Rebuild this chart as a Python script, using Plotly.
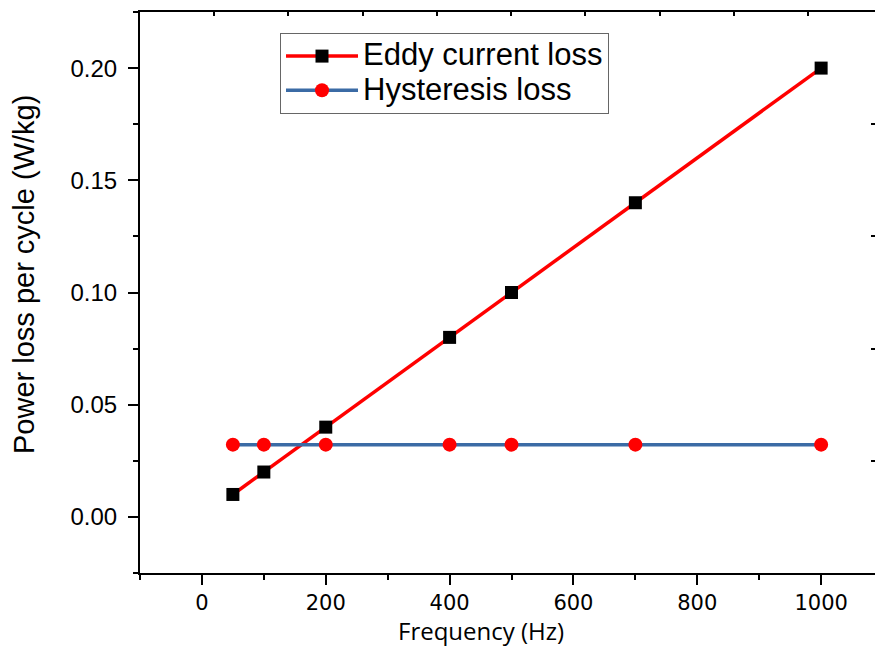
import plotly.graph_objects as go

freq = [50, 100, 200, 400, 500, 700, 1000]
eddy_loss = [0.01, 0.02, 0.04, 0.08, 0.10, 0.14, 0.20]
hyst_loss = [0.0322, 0.0322, 0.0322, 0.0322, 0.0322, 0.0322, 0.0322]
series_names = ["Eddy current loss", "Hysteresis loss"]

x_major_ticks = [0, 200, 400, 600, 800, 1000]
y_major_ticks = [0.00, 0.05, 0.10, 0.15, 0.20]
y_tick_labels = ["0.00", "0.05", "0.10", "0.15", "0.20"]

RED = "#FF0000"
BLUE = "#3B6BA5"


def legend_name(s):
    return '<span style="font-size:31px">' + s + "</span>"


fig = go.Figure()
fig.add_trace(go.Scatter(
    x=freq, y=eddy_loss, mode="lines+markers", name=legend_name(series_names[0]),
    line=dict(color=RED, width=3.5),
    marker=dict(symbol="square", size=13, color="black", line=dict(width=0)),
))
fig.add_trace(go.Scatter(
    x=freq, y=hyst_loss, mode="lines+markers", name=legend_name(series_names[1]),
    line=dict(color=BLUE, width=3.5),
    marker=dict(symbol="circle", size=14, color=RED, line=dict(width=0)),
))
# empty trace to carry the mirrored frame axes
fig.add_trace(go.Scatter(x=[], y=[], xaxis="x2", yaxis="y2", showlegend=False, hoverinfo="skip"))

fig.update_layout(
    width=875, height=648,
    margin=dict(l=140, r=0, t=12, b=75),
    paper_bgcolor="white", plot_bgcolor="white",
    showlegend=True,
    legend=dict(
        x=(280 - 140) / 735, y=(573 - 33) / 561, xanchor="left", yanchor="top",
        bgcolor="white", bordercolor="#666666", borderwidth=1,
        font=dict(family="Liberation Sans, Arial", size=24, color="black"),
        itemwidth=72, tracegroupgap=0,
    ),
    xaxis=dict(
        range=[-100, 1087], tickvals=x_major_ticks,
        ticks="outside", ticklen=10, tickwidth=2, tickcolor="black",
        minor=dict(dtick=100, tick0=0, ticks="outside", ticklen=5, tickwidth=2, tickcolor="black"),
        showline=True, linewidth=2, linecolor="black",
        showgrid=False, zeroline=False,
        tickfont=dict(family="DejaVu Sans", size=21, color="black"),
    ),
    yaxis=dict(
        range=[-0.025, 0.225], tickvals=y_major_ticks, ticktext=y_tick_labels,
        ticks="outside", ticklen=10, tickwidth=2, tickcolor="black",
        minor=dict(dtick=0.025, tick0=0, ticks="outside", ticklen=5, tickwidth=2, tickcolor="black"),
        showline=True, linewidth=2, linecolor="black",
        showgrid=False, zeroline=False, ticklabelstandoff=6,
        tickfont=dict(family="Liberation Sans, Arial", size=24, color="black"),
    ),
    xaxis2=dict(
        overlaying="x", side="top", range=[0, 9.9], dtick=1, tick0=0,
        ticks="inside", ticklen=4, tickwidth=2, tickcolor="black",
        showticklabels=False, showline=True, linewidth=2, linecolor="black",
        showgrid=False, zeroline=False,
    ),
    yaxis2=dict(
        overlaying="y", side="right", range=[-0.025, 0.225],
        tickvals=[0.025, 0.075, 0.125, 0.175],
        ticks="inside", ticklen=4, tickwidth=2, tickcolor="black",
        showticklabels=False, showline=False,
        showgrid=False, zeroline=False,
    ),
    annotations=[
        dict(text="Frequency (Hz)", xref="paper", yref="paper",
             x=(481 - 140) / 735, y=(573 - 648) / 561, xanchor="center", yanchor="bottom",
             borderpad=0, showarrow=False,
             font=dict(family="Open Sans", size=24, color="black")),
        dict(text="Power loss per cycle (W/kg)", xref="paper", yref="paper",
             x=(24 - 140) / 735, y=(573 - 275) / 561, xanchor="center", yanchor="middle",
             textangle=-90, showarrow=False,
             font=dict(family="Liberation Sans, Arial", size=29, color="black")),
    ],
)

fig.write_html("out.html")
